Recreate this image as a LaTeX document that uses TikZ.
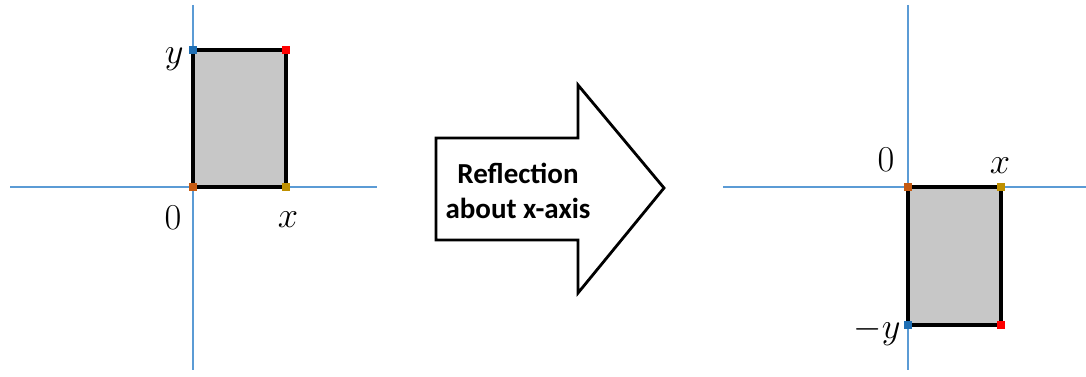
\documentclass[tikz,border=0pt]{standalone}
\usepackage{fontspec}
\newfontfamily\calibri{Carlito}
\usepackage{xcolor}
\usetikzlibrary{positioning}

\definecolor{axisblue}{HTML}{5B9BD5}
\definecolor{ptblue}{HTML}{1F6FB4}
\definecolor{ptred}{HTML}{FF0000}
\definecolor{ptorange}{HTML}{C55A11}
\definecolor{ptgold}{HTML}{BF9000}

\begin{document}
\begin{tikzpicture}[
    x=0.02cm, y=-0.02cm,
    axis/.style={axisblue, line width=0.6pt},
    box/.style={draw=black, fill=black!22, line width=1.9pt},
    corner/.style={rectangle, inner sep=0pt, minimum size=0.16cm},
    lbl/.style={font=\fontsize{21}{24}\selectfont, inner sep=0pt},
    arrowbox/.style={draw=black, fill=white, line width=1.6pt, line join=miter},
]
\useasboundingbox (0,0) rectangle (1086,377);

% left: original rectangle
\coordinate (l-top) at (193,5);
\coordinate (l-bot) at (193,370);
\coordinate (l-west) at (10,187);
\coordinate (l-east) at (377,187);
\draw[axis] (l-top) -- (l-bot);
\draw[axis] (l-west) -- (l-east);
\draw[box] (193,50) rectangle (286,187);
\node[corner, fill=ptblue]   (l-y)  at (193,50) {};
\node[corner, fill=ptred]    (l-xy) at (286,50) {};
\node[corner, fill=ptorange] (l-o)  at (193,187) {};
\node[corner, fill=ptgold]   (l-x)  at (286,187) {};
\node[lbl, anchor=east] (l-ylbl) at ([shift={(-9,9)}]l-y) {$y$};
\node[lbl] (l-olbl) at ([shift={(-20,31)}]l-o) {$0$};
\node[lbl] (l-xlbl) at ([shift={(2,33)}]l-x) {$x$};

% middle: the big arrow
\draw[arrowbox] (436,138) -- (578,138) -- (578,85) -- (664,188)
    -- (578,293) -- (578,240) -- (436,240) -- cycle;
\node[font=\calibri\bfseries\fontsize{16.5}{20}\selectfont, align=center]
    (refl) at (518,191) {Reflection\\about x-axis};

% right: reflected rectangle
\coordinate (r-top) at (908,5);
\coordinate (r-bot) at (908,370);
\coordinate (r-west) at (723,187);
\coordinate (r-east) at (1086,187);
\draw[axis] (r-top) -- (r-bot);
\draw[axis] (r-west) -- (r-east);
\draw[box] (908,187) rectangle (1001,325);
\node[corner, fill=ptorange] (r-o)  at (908,187) {};
\node[corner, fill=ptgold]   (r-x)  at (1001,187) {};
\node[corner, fill=ptblue]   (r-y)  at (908,325) {};
\node[corner, fill=ptred]    (r-xy) at (1001,325) {};
\node[lbl] (r-olbl) at ([shift={(-22,-27)}]r-o) {$0$};
\node[lbl] (r-xlbl) at ([shift={(-1,-21)}]r-x) {$x$};
\node[lbl, anchor=east] (r-ylbl) at ([shift={(-7,6)}]r-y) {$-y$};
\end{tikzpicture}
\end{document}
